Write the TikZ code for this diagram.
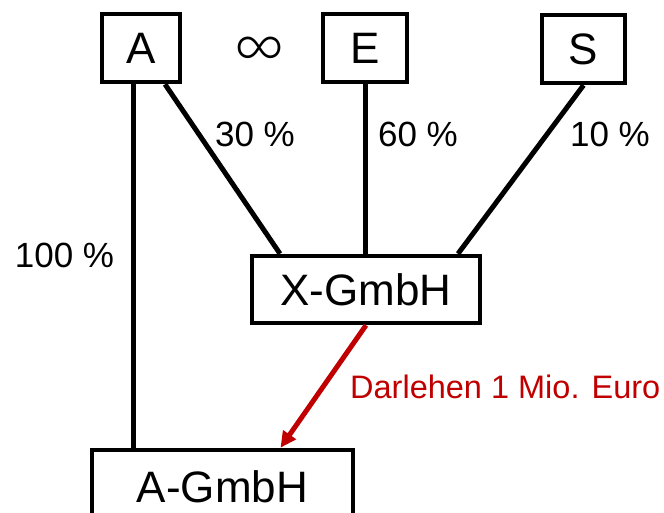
\documentclass[tikz,border=0pt]{standalone}
\usepackage{fontspec}
\setmainfont{Liberation Sans}
\newfontfamily\inffont{Lato Light}
\usetikzlibrary{arrows.meta}
\definecolor{loanred}{RGB}{192,0,0}
\begin{document}
\begin{tikzpicture}[x=1pt,y=-1pt,
  ent/.style={draw=black,line width=4.5pt,inner sep=0pt,fill=white,
    font=\fontsize{44}{53}\selectfont},
  lbl/.style={inner sep=0pt,font=\fontsize{35}{42}\selectfont},
  link/.style={line width=5pt,black},
  loan/.style={line width=5pt,loanred,-{Triangle[length=16pt,width=15pt]}}]
\useasboundingbox (0,0) rectangle (664,512);
\clip (0,0) rectangle (664,512);
\node[ent,minimum width=78pt,minimum height=68pt] (A) at (141,48) {A};
\node[ent,minimum width=84pt,minimum height=68pt] (E) at (365,48) {E};
\node[ent,minimum width=83pt,minimum height=68pt] (S) at (583.5,49) {S};
\node[inner sep=0pt,font=\inffont\fontsize{70}{76}\selectfont] (inf) at (259.5,52.5) {∞};
\node[ent,minimum width=228pt,minimum height=67pt] (X) at (366,289.5) {X-GmbH};
\node[ent,minimum width=261pt,minimum height=74pt] (AG) at (222.5,487) {A-GmbH};
\draw[link] ([xshift=-8pt]A.south) -- ([xshift=-8pt]A.south |- AG.north);
\draw[link] ([xshift=24pt]A.south) -- ([xshift=-86pt]X.north);
\draw[link] (E.south) -- (E.south |- X.north);
\draw[link] (S.south) -- ([xshift=92pt]X.north);
\draw[loan] (X.south) -- ([xshift=58pt]AG.north);
\node[lbl] (p30) at (255,134) {30 \%};
\node[lbl] (p60) at (418,134) {60 \%};
\node[lbl] (p10) at (610,134) {10 \%};
\node[lbl] (p100) at (64.5,255) {100 \%};
\node[inner sep=0pt,font=\fontsize{32.5}{40}\selectfont,text=loanred,anchor=west] (loanlbl) at (350,387) {Darlehen 1 Mio. Euro};
\end{tikzpicture}
\end{document}
